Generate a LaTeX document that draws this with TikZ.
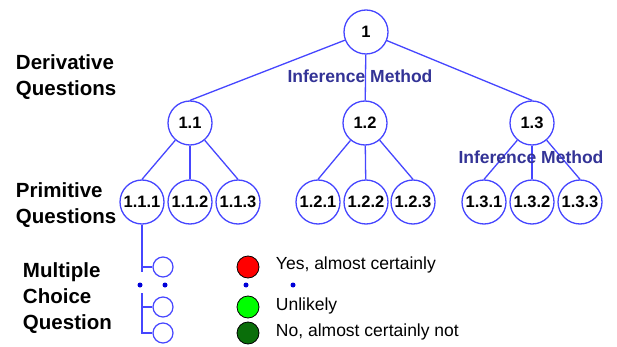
\documentclass[tikz,border=0pt]{standalone}
\usepackage{fontspec}
\setmainfont{Liberation Sans}
\usepackage{xcolor}
\usetikzlibrary{shapes, positioning}

\definecolor{edgeblue}{RGB}{70,70,255}
\definecolor{labblue}{RGB}{51,51,150}
\definecolor{darkgreen}{RGB}{10,110,10}

\begin{document}
\begin{tikzpicture}[x=1pt, y=-1pt,
        q/.style={circle, draw=edgeblue, line width=1.3pt, fill=white, minimum size=44pt, inner sep=0pt, font=\fontsize{16.5}{18}\selectfont\bfseries},
        choice/.style={circle, draw=edgeblue, line width=1.2pt, minimum size=20pt, inner sep=0pt},
        answer/.style={circle, draw=black, line width=0.8pt, minimum size=22pt, inner sep=0pt},
        dot/.style={circle, fill=blue!85!black, minimum size=5pt, inner sep=0pt},
        side/.style={anchor=west, align=left, font=\fontsize{20.5}{26}\selectfont\bfseries},
        method/.style={text=labblue, font=\fontsize{17.5}{20}\selectfont\bfseries},
        legend/.style={anchor=west, font=\fontsize{17.5}{20}\selectfont},
        every path/.style={draw=edgeblue, line width=1.3pt}]
    \useasboundingbox[fill=white, draw=none] (0,0) rectangle (617,347);

    % tree
    \node[q] (n1) at (366, 32) {1};
    \node[q] (n11) at (190, 123) {1.1};
    \node[q] (n12) at (365, 123) {1.2};
    \node[q] (n13) at (532, 123) {1.3};

    \node[q] (n111) at (142, 202) {1.1.1};
    \node[q] (n112) at (190, 202) {1.1.2};
    \node[q] (n113) at (238, 202) {1.1.3};
    \node[q] (n121) at (318, 202) {1.2.1};
    \node[q] (n122) at (366, 202) {1.2.2};
    \node[q] (n123) at (413, 202) {1.2.3};
    \node[q] (n131) at (484, 202) {1.3.1};
    \node[q] (n132) at (532, 202) {1.3.2};
    \node[q] (n133) at (580, 202) {1.3.3};

    \draw (n1) -- (n11.north);
    \draw (n1) -- (n12);
    \draw (n1) -- (n13.north);
    \draw (n11) -- (n111.north);
    \draw (n11) -- (n112);
    \draw (n11) -- (n113.north);
    \draw (n12) -- (n121.north);
    \draw (n12) -- (n122);
    \draw (n12) -- (n123.north);
    \draw (n13) -- (n131.north);
    \draw (n13) -- (n132);
    \draw (n13) -- (n133.north);

    \node[method] (m1) at (360, 76) {Inference Method};
    \node[method] (m2) at (531, 157) {Inference Method};

    % levels
    \node[side] (deriv) at (12, 77) {Derivative\\Questions};
    \node[side] (prim) at (12, 205) {Primitive\\Questions};
    \node[side] (mcq) at (19, 298) {Multiple\\Choice\\Question};

    % choices
    \node[choice] (c1) at (163, 267) {};
    \node[choice] (c2) at (163, 307) {};
    \node[choice] (c3) at (163, 333) {};
    \coordinate (t1) at (142, 272);
    \coordinate (t2) at (142, 293);
    \draw (n111) -- (t1);
    \draw (c1) -- (c1 -| t1);
    \draw (t2) |- (c3);
    \draw (c2) -- (c2 -| t2);

    \node[dot] (d1) at (140, 285) {};
    \node[dot] (d2) at (165, 285) {};
    \node[dot] (d3) at (246, 285) {};
    \node[dot] (d4) at (293, 285) {};

    % legend
    \node[answer, fill=red] (yes) at (248, 267) {};
    \node[answer, fill=green] (unl) at (248, 307) {};
    \node[answer, fill=darkgreen] (no) at (248, 333) {};
    \node[legend] at (272, 265) {Yes, almost certainly};
    \node[legend] at (272, 306) {Unlikely};
    \node[legend] at (272, 332) {No, almost certainly not};
\end{tikzpicture}
\end{document}
